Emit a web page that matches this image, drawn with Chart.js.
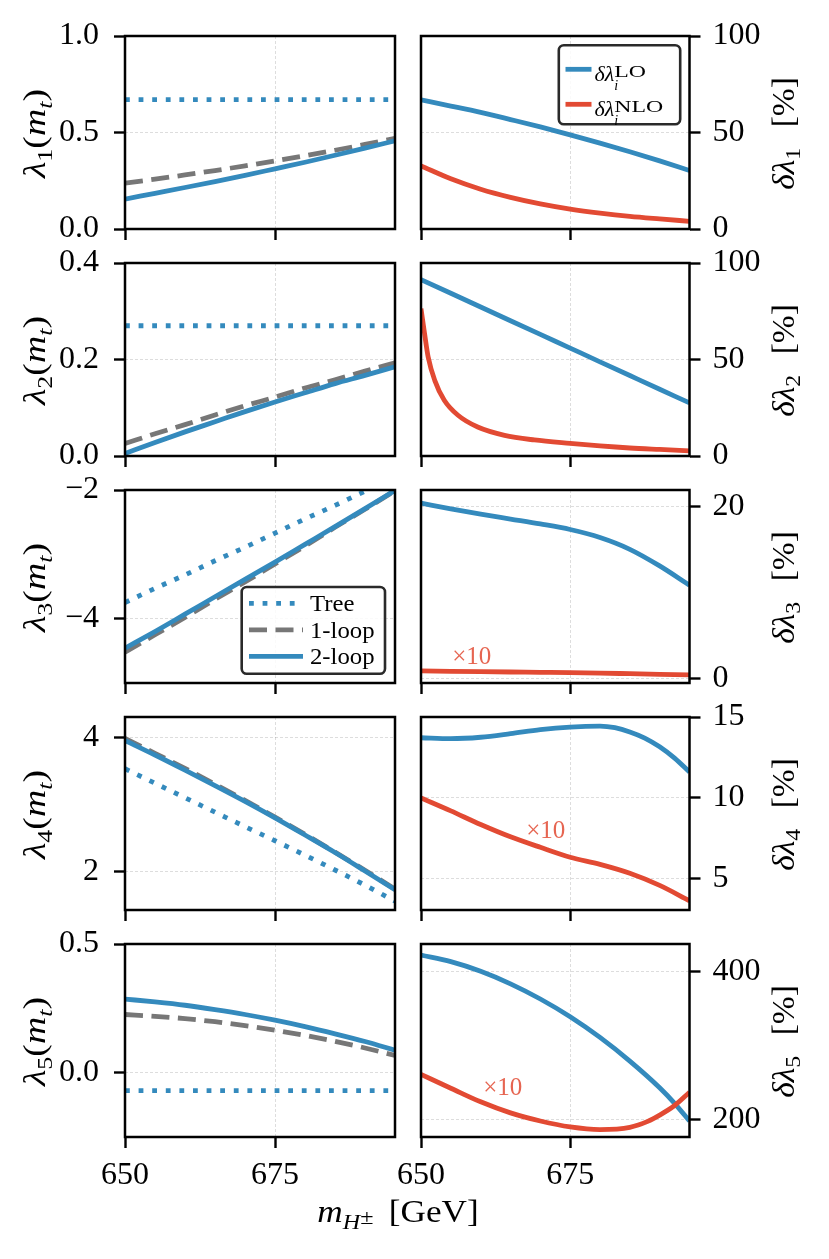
<!DOCTYPE html>
<html>
<head>
<meta charset="utf-8">
<script src="https://cdn.jsdelivr.net/npm/chart.js@4.4.1/dist/chart.umd.min.js"></script>
<style>
  html, body { margin: 0; padding: 0; background: #fff; }
  #fig { position: relative; width: 829px; height: 1259px; overflow: hidden; background: #fff; }
  #fig canvas { position: absolute; }
</style>
</head>
<body>
<div id="fig"></div>
<script>
// x values (charged Higgs mass, GeV)
const mH = [650, 655, 660, 665, 670, 675, 680, 685, 690, 695];
const mHTree3 = [650, 655, 660, 665, 670, 675, 680, 685, 690, 690.5];
const mHNlo2 = [650, 650.6, 651.2, 652.3, 653.9, 656.2, 659.5, 664, 669, 675, 680, 685, 690, 695];
const mHLo4 = [650, 655, 660, 665, 670, 675, 680, 682.5, 685, 687.5, 690, 692.5, 695];
const mHLo5 = [650, 655, 660, 665, 670, 675, 680, 685, 690, 692.5, 695];
const mHNlo5 = [650, 655, 660, 665, 670, 675, 680, 685, 688, 690, 692.5, 695];
const xTicks = [650, 675];

// left column: lambda_i(m_t)
const lam1Tree = [0.67, 0.67, 0.67, 0.67, 0.67, 0.67, 0.67, 0.67, 0.67, 0.67];
const lam1One = [0.238, 0.258, 0.280, 0.303, 0.327, 0.353, 0.380, 0.408, 0.438, 0.470];
const lam1Two = [0.155, 0.185, 0.215, 0.246, 0.278, 0.312, 0.346, 0.382, 0.419, 0.457];

const lam2Tree = [0.27, 0.27, 0.27, 0.27, 0.27, 0.27, 0.27, 0.27, 0.27, 0.27];
const lam2One = [0.026, 0.046, 0.065, 0.085, 0.104, 0.122, 0.141, 0.158, 0.176, 0.193];
const lam2Two = [0.005, 0.028, 0.050, 0.071, 0.092, 0.112, 0.131, 0.150, 0.167, 0.185];

const lam3Tree = [-3.75, -3.53, -3.32, -3.10, -2.89, -2.67, -2.45, -2.24, -2.02, -2.00];
const lam3One = [-4.52, -4.25, -3.98, -3.70, -3.43, -3.15, -2.87, -2.58, -2.30, -2.01];
const lam3Two = [-4.46, -4.20, -3.93, -3.66, -3.39, -3.12, -2.845, -2.57, -2.29, -2.005];

const lam4Tree = [3.53, 3.315, 3.10, 2.885, 2.67, 2.46, 2.245, 2.025, 1.80, 1.56];
const lam4One = [3.98, 3.76, 3.535, 3.30, 3.06, 2.81, 2.555, 2.29, 2.02, 1.74];
const lam4Two = [3.95, 3.735, 3.51, 3.28, 3.045, 2.80, 2.545, 2.285, 2.01, 1.73];

const lam5Tree = [-0.07, -0.07, -0.07, -0.07, -0.07, -0.07, -0.07, -0.07, -0.07, -0.07];
const lam5One = [0.226, 0.219, 0.210, 0.198, 0.183, 0.165, 0.145, 0.122, 0.096, 0.067];
const lam5Two = [0.286, 0.275, 0.262, 0.245, 0.226, 0.204, 0.179, 0.151, 0.121, 0.087];

// right column: relative uncertainties in %
const dLam1Lo = [66.9, 63.7, 60.4, 56.7, 52.9, 48.8, 44.5, 40.0, 35.3, 30.3];
const dLam1Nlo = [32.7, 26.0, 20.6, 16.4, 13.0, 10.3, 8.2, 6.5, 5.2, 4.0];
const dLam2Lo = [91.4, 84.3, 77.2, 70.1, 63.0, 55.9, 48.8, 41.7, 34.6, 27.5];
const dLam2Nlo = [76.4, 63.4, 51.3, 39.2, 28.9, 21.1, 15.0, 10.7, 8.3, 6.5, 5.2, 4.15, 3.4, 2.7];
const dLam3Lo = [20.35, 19.68, 19.07, 18.5, 17.93, 17.28, 16.35, 14.98, 13.05, 10.8];
const dLam3Nlo = [0.85, 0.81, 0.77, 0.73, 0.69, 0.65, 0.60, 0.53, 0.46, 0.39];
const dLam4Lo = [13.72, 13.66, 13.75, 13.97, 14.22, 14.38, 14.44, 14.34, 14.08, 13.7, 13.16, 12.46, 11.6];
const dLam4Nlo = [10.0, 9.2, 8.36, 7.6, 6.95, 6.34, 5.9, 5.35, 4.6, 3.65];
const dLam5Lo = [422.6, 413.6, 400.6, 383.6, 363.1, 339.1, 311.1, 279.1, 243, 222, 198];
const dLam5Nlo = [261, 242.4, 224, 209, 198, 190, 186.5, 189.5, 197.5, 206, 219, 237];

// y ticks per panel
const lamTicks = [[0, 0.5, 1.0], [0, 0.2, 0.4], [-4, -2], [2, 4], [0, 0.5]];
const lamTickLabels = [['0.0', '0.5', '1.0'], ['0.0', '0.2', '0.4'], ['\u22124', '\u22122'], ['2', '4'], ['0.0', '0.5']];
const dTicks = [[0, 50, 100], [0, 50, 100], [0, 20], [5, 10, 15], [200, 400]];

const FONT = 'Liberation Serif';
const BLUE = '#348ABD', RED = '#E24A33', GRAY = '#777777';
const gridColor = 'rgba(0,0,0,0.15)';
const fig = document.getElementById('fig');

function pts(xs, ys) { return xs.map((x, i) => ({ x: x, y: ys[i] })); }

function line(label, xs, ys, color, dash, order) {
  return {
    label: label, data: pts(xs, ys), borderColor: color, backgroundColor: color,
    borderWidth: 4.8, borderDash: dash, pointRadius: 0, fill: false,
    cubicInterpolationMode: 'monotone', order: order
  };
}

// small rich-text renderer: italic, sub/superscripts, gaps, horizontal stretch
function drawRich(ctx, segs, x, y, size, rotate, align, sx) {
  sx = sx || 1;
  const parts = [];
  let cx = 0, hold = null;
  for (const s of segs) {
    if (s.gap) { cx += s.gap; continue; }
    const sz = s.size || ((s.sub || s.sup) ? Math.round(size * 0.7) : size);
    const font = (s.it ? 'italic ' : '') + sz + 'px "' + FONT + '"';
    const k = s.sx || 1;
    ctx.font = font;
    const w = ctx.measureText(s.t).width * k;
    const dy = s.dy !== undefined ? s.dy : (s.sub ? size * 0.22 : s.sup ? -size * 0.42 : 0);
    if (hold) {
      parts.push({ t: s.t, font: font, x: hold.x, dy: dy, k: k });
      cx = hold.x + Math.max(hold.w, w);
      hold = null;
    } else {
      parts.push({ t: s.t, font: font, x: cx, dy: dy, k: k });
      if (s.hold) hold = { x: cx, w: w }; else cx += w;
    }
  }
  const shift = align === 'center' ? -cx / 2 : 0;
  ctx.save();
  ctx.translate(x, y);
  if (rotate) ctx.rotate(-Math.PI / 2);
  ctx.scale(sx, 1);
  ctx.fillStyle = '#000';
  ctx.textAlign = 'left';
  ctx.textBaseline = 'alphabetic';
  for (const q of parts) {
    ctx.save();
    ctx.translate(q.x + shift, q.dy);
    ctx.scale(q.k, 1);
    ctx.font = q.font;
    ctx.fillText(q.t, 0, 0);
    ctx.restore();
  }
  ctx.restore();
}

// "δλ_i^LO" -> base, subscript and superscript stacked
function labelSegs(label, L) {
  const m = label.match(/^([^_]+)_([^^]+)\^(.+)$/);
  if (!m) return [{ t: label, size: L.size }];
  return [
    { t: m[1], it: true, size: L.size, sx: 1.1 },
    { t: m[2], it: true, size: 14, dy: 9, hold: true },
    { t: m[3], size: 17, dy: -4, sx: 1.4 }
  ];
}

function drawLegend(chart, L) {
  const ctx = chart.ctx, a = chart.chartArea;
  const x0 = a.right - L.mx - L.w;
  const y0 = L.corner === 'ne' ? a.top + L.my : a.bottom - L.my - L.h;
  ctx.save();
  ctx.beginPath();
  ctx.roundRect(x0, y0, L.w, L.h, 5);
  ctx.fillStyle = 'rgba(255,255,255,0.85)';
  ctx.fill();
  ctx.lineWidth = 2.6;
  ctx.strokeStyle = '#2a2a2a';
  ctx.stroke();
  chart.data.datasets.forEach((ds, i) => {
    const y = y0 + L.first + i * L.step;
    ctx.beginPath();
    ctx.setLineDash(ds.borderDash || []);
    ctx.lineWidth = ds.borderWidth;
    ctx.strokeStyle = ds.borderColor;
    ctx.lineCap = 'butt';
    ctx.moveTo(x0 + L.hx0, y);
    ctx.lineTo(x0 + L.hx1, y);
    ctx.stroke();
    ctx.setLineDash([]);
    drawRich(ctx, labelSegs(ds.label, L), x0 + L.tx, y + L.base, L.size, false, 'left', L.sx);
  });
  ctx.restore();
}

const framePlugin = {
  id: 'frame',
  afterDatasetsDraw(chart) {
    const ctx = chart.ctx, a = chart.chartArea;
    ctx.save();
    ctx.lineWidth = 2.5;
    ctx.strokeStyle = '#000';
    ctx.strokeRect(a.left, a.top, a.right - a.left, a.bottom - a.top);
    ctx.restore();
  }
};

function overlay(p) {
  return {
    id: 'overlay',
    afterDraw(chart) {
      const ctx = chart.ctx, a = chart.chartArea;
      const my = (a.top + a.bottom) / 2;
      if (p.yTitle) {
        if (p.side === 'left') drawRich(ctx, p.yTitle, a.left - 80, my + 1, 32, true, 'center', 1.18);
        else drawRich(ctx, p.yTitle, a.right + 104, my + 1, 31, true, 'center', 1.08);
      }
      if (p.xTitle) drawRich(ctx, p.xTitle, a.left + 273, a.bottom + 85, 32, false, 'center', 1.1);
      if (p.note) {
        ctx.save();
        ctx.font = '25px "' + FONT + '"';
        ctx.fillStyle = 'rgba(226,74,51,0.85)';
        ctx.textAlign = 'center';
        ctx.textBaseline = 'middle';
        ctx.fillText('\u00d710', chart.scales.x.getPixelForValue(p.note.x), chart.scales.y.getPixelForValue(p.note.y));
        ctx.restore();
      }
      if (p.legend) drawLegend(chart, p.legend);
    }
  };
}

const rowTops = [36, 263, 490, 717, 944];
const PAD = 40;

function panel(p) {
  const last = p.row === 4;
  const left = p.side === 'left';
  const w = left ? 520 : 449;
  const xh = last ? 120 : PAD;
  const h = PAD + 193 + xh;
  const c = document.createElement('canvas');
  c.width = w; c.height = h;
  c.style.left = (left ? 0 : 380) + 'px';
  c.style.top = (rowTops[p.row] - PAD) + 'px';
  c.style.width = w + 'px'; c.style.height = h + 'px';
  c.setAttribute('role', 'img');
  c.setAttribute('aria-label', p.aria);
  fig.appendChild(c);
  const yt = p.ticks, yl = p.tickLabels;
  return new Chart(c, {
    type: 'line',
    data: { datasets: p.datasets },
    options: {
      responsive: false,
      animation: false,
      events: [],
      layout: { autoPadding: false, padding: left ? { top: PAD, left: 0, right: 125, bottom: 0 } : { top: PAD, left: 41, right: 0, bottom: 0 } },
      plugins: { legend: { display: false }, tooltip: { enabled: false } },
      scales: {
        x: {
          type: 'linear', position: 'bottom', min: 650, max: 695,
          afterBuildTicks: s => { s.ticks = xTicks.map(v => ({ value: v })); },
          afterFit: s => { s.height = xh; },
          grid: { color: gridColor, lineWidth: 0.9, tickLength: 11, tickWidth: 2.4, tickColor: '#000' },
          border: { display: false, dash: [3, 2] },
          ticks: { display: last, color: '#000', font: { family: FONT, size: 32 }, padding: 8, maxRotation: 0, callback: v => String(v) }
        },
        y: {
          type: 'linear', position: left ? 'left' : 'right', min: p.min, max: p.max,
          afterBuildTicks: s => { s.ticks = yt.map(v => ({ value: v })); },
          afterFit: s => { s.width = left ? 125 : 139.5; },
          grid: { color: gridColor, lineWidth: 0.9, tickLength: 11, tickWidth: 2.4, tickColor: '#000' },
          border: { display: false, dash: [3, 2] },
          ticks: { color: '#000', font: { family: FONT, size: 32 }, padding: left ? 15 : 12, callback: (v, i) => yl ? yl[i] : String(v) }
        }
      }
    },
    plugins: [framePlugin, overlay(p)]
  });
}

const DOT = [4.8, 8.8], DASH = [18, 8.5];
const lamData = [
  [lam1Tree, lam1One, lam1Two], [lam2Tree, lam2One, lam2Two], [lam3Tree, lam3One, lam3Two],
  [lam4Tree, lam4One, lam4Two], [lam5Tree, lam5One, lam5Two]
];
const lamRanges = [[0, 1], [0, 0.4], [-5, -2], [1.43, 4.3], [-0.25, 0.5]];
const dRanges = [[0, 100], [0, 100], [-0.55, 21.87], [3.08, 15], [176.4, 437.5]];
const loData = [dLam1Lo, dLam2Lo, dLam3Lo, dLam4Lo, dLam5Lo];
const loX = [mH, mH, mH, mHLo4, mHLo5];
const nloData = [dLam1Nlo, dLam2Nlo, dLam3Nlo, dLam4Nlo, dLam5Nlo];
const nloX = [mH, mHNlo2, mH, mH, mHNlo5];
const notes = [null, null, { x: 658.5, y: 2.4 }, { x: 670.9, y: 7.94 }, { x: 663.7, y: 242 }];
const subs = ['1', '2', '3', '4', '5'];

for (let r = 0; r < 5; r++) {
  const d = lamData[r];
  panel({
    row: r, side: 'left', min: lamRanges[r][0], max: lamRanges[r][1],
    ticks: lamTicks[r], tickLabels: lamTickLabels[r],
    aria: '\u03bb' + subs[r] + '(m_t) versus m_H\u00b1 [GeV]',
    datasets: [
      line('Tree', r === 2 ? mHTree3 : mH, d[0], BLUE, DOT, 2),
      line('1-loop', mH, d[1], GRAY, DASH, 1),
      line('2-loop', mH, d[2], BLUE, [], 0)
    ],
    yTitle: [{ t: '\u03bb', it: true }, { t: subs[r], sub: true }, { t: '(' }, { t: 'm', it: true }, { t: 't', it: true, sub: true }, { t: ')' }],
    xTitle: r === 4 ? [{ t: 'm', it: true }, { t: 'H', it: true, sub: true }, { t: '\u00b1', sub: true, dy: 2 }, { gap: 14 }, { t: '[GeV]' }] : null,
    legend: r === 2 ? { corner: 'se', mx: 10, my: 9.3, w: 143.3, h: 86.7, first: 16.3, step: 26.5, hx0: 7.3, hx1: 61.3, tx: 68.3, base: 8, size: 24, sx: 1.03 } : null
  });
  panel({
    row: r, side: 'right', min: dRanges[r][0], max: dRanges[r][1],
    ticks: dTicks[r], tickLabels: null,
    aria: '\u03b4\u03bb' + subs[r] + ' [%] versus m_H\u00b1 [GeV]',
    datasets: [
      line('\u03b4\u03bb_i^LO', loX[r], loData[r], BLUE, [], 1),
      line('\u03b4\u03bb_i^NLO', nloX[r], nloData[r], RED, [], 0)
    ],
    yTitle: [{ t: '\u03b4\u03bb', it: true }, { t: subs[r], sub: true }, { gap: 19 }, { t: '[%]' }],
    note: notes[r],
    legend: r === 0 ? { corner: 'ne', mx: 9.3, my: 9.3, w: 121.4, h: 79, first: 24, step: 35, hx0: 6.7, hx1: 32.7, tx: 35.7, base: 11.7, size: 20 } : null
  });
}
</script>
</body>
</html>
